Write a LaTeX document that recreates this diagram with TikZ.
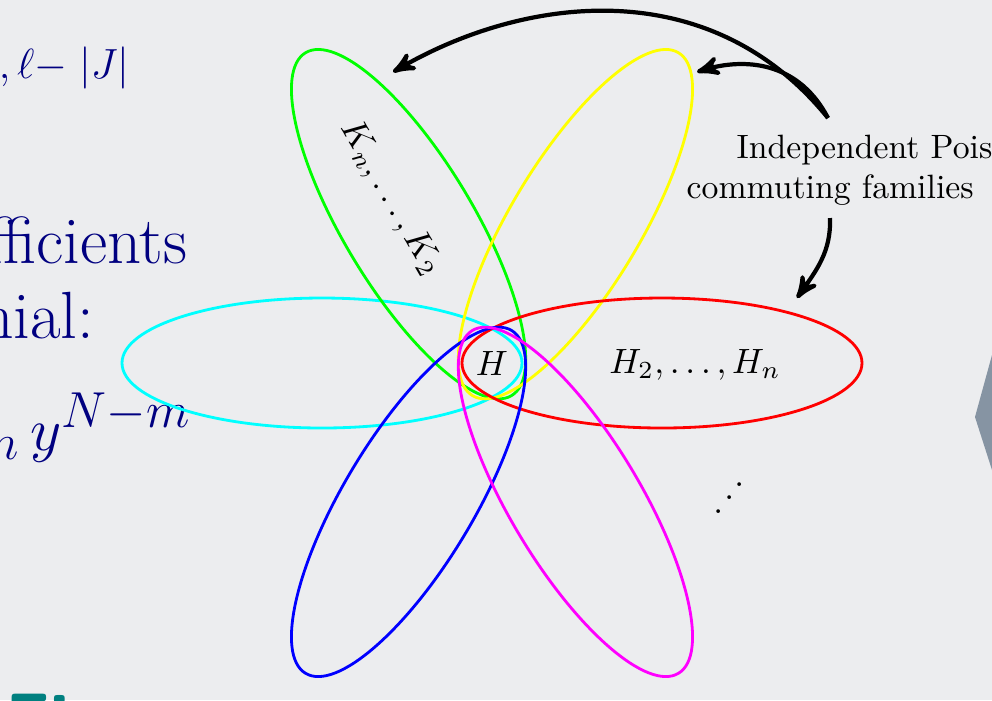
\documentclass[tikz,border=0pt]{standalone}
\usepackage{tikz}
\usetikzlibrary{shapes,arrows,positioning,calc}
\usepackage{amsmath}
\definecolor{slidebg}{RGB}{236,237,239}
\definecolor{titleblue}{RGB}{0,0,128}
\definecolor{headteal}{RGB}{0,128,128}
\definecolor{slategray}{RGB}{134,148,163}
\definecolor{famcyan}{RGB}{0,255,255}
\definecolor{fammagenta}{RGB}{255,0,255}
\definecolor{famgreen}{RGB}{0,255,0}
\definecolor{famyellow}{RGB}{255,255,0}

\begin{document}
\begin{tikzpicture}[
    fam/.style={ellipse,draw,thick,minimum width=4cm,minimum height=1.3cm,inner sep=0pt},
    slidetext/.style={text=titleblue,font=\fontsize{19}{23}\selectfont,inner sep=0pt,anchor=base east},
    note/.style={align=left,inner sep=0pt,anchor=north west,font=\fontsize{9.6}{11.5}\selectfont},
    arrow/.style={->,>=stealth',very thick}]
    \fill[slidebg] (0,0) rectangle (9.92,-7);
    \clip (0,0) rectangle (9.92,-7);
    % slide text cut by the frame
    \node[slidetext,font=\large] (sub) at (1.30,-0.78) {$c,\ell{-}\;|J|$};
    \node[slidetext] (coef) at (1.88,-2.63) {coefficients};
    \node[slidetext] (poly) at (0.95,-3.38) {polynomial:};
    \node[slidetext] (sum) at (1.92,-4.50) {$K_m\,y^{N-m}$};
    \node[text=headteal,font=\huge\sffamily\bfseries,inner sep=0pt,anchor=north west] (fig) at (0.05,-6.935) {Fi};
    \fill[slategray] (9.92,-3.55) -- (9.75,-4.17) -- (9.92,-4.70) -- cycle;
    % families around H
    \node (H) at (4.92,-3.63) {$H$};
    \node[fam,draw=famcyan] (cfam) at ($(H)+(180:1.70)$) {};
    \node[fam,draw=famgreen,rotate=121] (kfam) at ($(H)+(121:1.62)$) {};
    \node[fam,draw=famyellow,rotate=59] (yfam) at ($(H)+(59:1.62)$) {};
    \node[fam,draw=red] (hfam) at ($(H)+(0:1.70)$) {};
    \node[fam,draw=blue,rotate=239] (bfam) at ($(H)+(239:1.62)$) {};
    \node[fam,draw=fammagenta,rotate=301] (mfam) at ($(H)+(301:1.62)$) {};
    \node[rotate=-60] (klab) at (3.91,-1.98) {$K_n,\ldots,K_2$};
    \node (hlab) at (6.95,-3.65) {$H_2,\ldots,H_n$};
    \node[rotate=90] (dots) at (7.19,-4.98) {$\ddots$};
    % label and arrows
    \node[note] (indep) at (6.86,-1.34) {\hspace*{0.5cm}Independent Poisson\\commuting families};
    \coordinate (src) at (8.28,-1.18);
    \coordinate (src2) at (8.30,-2.18);
    \coordinate (ktip) at (3.93,-0.72);
    \coordinate (ytip) at (6.97,-0.72);
    \coordinate (htip) at (7.97,-2.98);
    \draw[arrow] (src) .. controls (7.1,0.28) and (5.25,0.05) .. (ktip);
    \draw[arrow] (src) .. controls (7.95,-0.55) and (7.35,-0.6) .. (ytip);
    \draw[arrow] (src2) to[out=-88,in=55] (htip);
\end{tikzpicture}
\end{document}
